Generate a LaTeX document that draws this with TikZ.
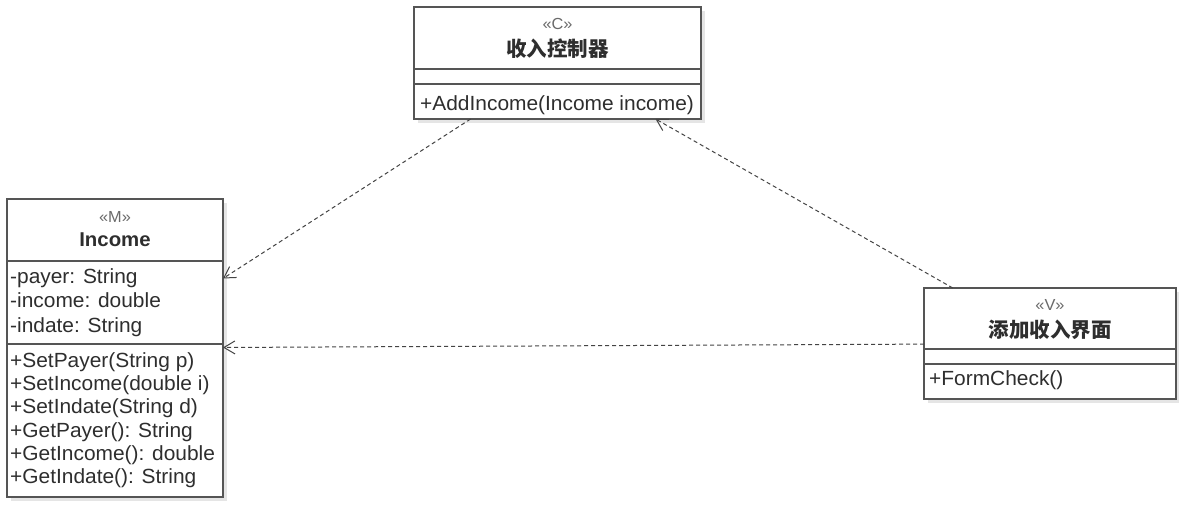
\documentclass[tikz,border=0pt]{standalone}
\usepackage{fontspec}
\setmainfont{Liberation Sans}[FakeStretch=1.02]
\newfontfamily\cjk{Noto Sans CJK SC}
\usetikzlibrary{arrows.meta,shadows}
\definecolor{boxline}{HTML}{555555}
\definecolor{txt}{HTML}{2E2E2E}
\definecolor{stereo}{HTML}{6A6A6A}
\definecolor{conn}{HTML}{444444}
\begin{document}
\begin{tikzpicture}[x=1pt,y=-1pt,
  cls/.style={draw=boxline,line width=1.4pt,fill=white,rectangle,inner sep=0pt,outer sep=0pt,
    drop shadow={shadow xshift=4pt,shadow yshift=-4pt,fill=black!10,opacity=1}},
  sep/.style={draw=boxline,line width=1.4pt},
  stereotxt/.style={inner sep=0pt,text=stereo,font=\fontsize{16}{18}\selectfont,anchor=center},
  nametxt/.style={inner sep=0pt,text=txt,font=\fontsize{20}{24}\selectfont\bfseries,anchor=center},
  cjkname/.style={inner sep=0pt,text=txt,font=\fontsize{20.5}{24}\selectfont\cjk\bfseries,anchor=center},
  member/.style={inner sep=0pt,text=txt,font=\fontsize{20.5}{24}\selectfont,anchor=base west},
  dep/.style={draw=conn,line width=1pt,dash pattern=on 4pt off 3pt,
    -{Straight Barb[length=11pt,width=13pt,line width=1pt]}}]
\useasboundingbox (0,0) rectangle (1179,504);
\fill[white] (0,0) rectangle (1179,504);

% Controller class
\node[cls,minimum width=287pt,minimum height=112pt] (ctrl) at (557.5,63) {};
\draw[sep] (414,69) -- (701,69);
\draw[sep] (414,84) -- (701,84);
\node[stereotxt] (ctrlS) at (557.5,24) {«C»};
\node[cjkname] (ctrlN) at (557.5,49) {收入控制器};
\node[member] (ctrlM1) at (420,110) {+AddIncome(Income income)};

% Income class
\node[cls,minimum width=216pt,minimum height=298pt] (inc) at (115,348) {};
\draw[sep] (7,261) -- (223,261);
\draw[sep] (7,344) -- (223,344);
\node[stereotxt] (incS) at (115,217) {«M»};
\node[nametxt] (incN) at (115,240) {Income};
\node[member] (incA1) at (10,283) {-payer: String};
\node[member] (incA2) at (10,307.5) {-income: double};
\node[member] (incA3) at (10,332) {-indate: String};
\node[member] (incM1) at (10,367) {+SetPayer(String p)};
\node[member] (incM2) at (10,390) {+SetIncome(double i)};
\node[member] (incM3) at (10,413.5) {+SetIndate(String d)};
\node[member] (incM4) at (10,437) {+GetPayer(): String};
\node[member] (incM5) at (10,460) {+GetIncome(): double};
\node[member] (incM6) at (10,483) {+GetIndate(): String};

% View class
\node[cls,minimum width=252pt,minimum height=111pt] (view) at (1050,343.5) {};
\draw[sep] (924,349) -- (1176,349);
\draw[sep] (924,364) -- (1176,364);
\node[stereotxt] (viewS) at (1050,305) {«V»};
\node[cjkname] (viewN) at (1050,330) {添加收入界面};
\node[member] (viewM1) at (929,385) {+FormCheck()};

% Dependencies
\draw[dep] (ctrl) -- (inc);
\draw[dep] (view) -- (ctrl);
\draw[dep] (view) -- (inc);
\end{tikzpicture}
\end{document}
